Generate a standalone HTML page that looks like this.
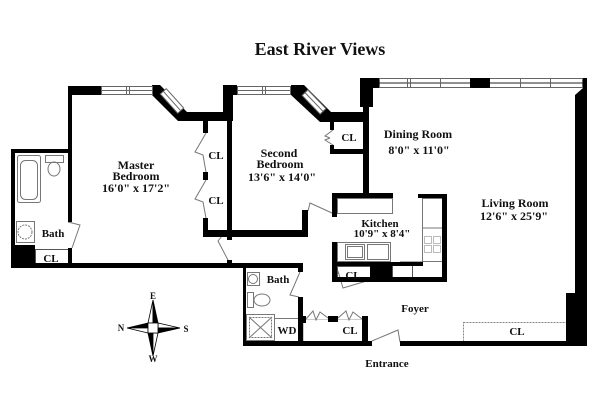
<!DOCTYPE html>
<html><head><meta charset="utf-8">
<style>
html,body{margin:0;padding:0;background:#fff;}
svg{display:block;}
text{font-family:"Liberation Serif",serif;font-weight:bold;fill:#111;}
</style></head><body>
<svg width="600" height="408" viewBox="0 0 600 408" xmlns="http://www.w3.org/2000/svg">
<rect width="600" height="408" fill="#fff"/>

<!-- fixtures / light lines -->
<g fill="none" stroke="#777" stroke-width="1">
 <!-- master bath -->
 <rect x="17.5" y="155.5" width="23" height="47" rx="2"/>
 <rect x="20.5" y="160.5" width="17" height="39" rx="5"/>
 <rect x="45.5" y="155.5" width="18" height="7"/>
 <ellipse cx="54" cy="169" rx="6" ry="7"/>
 <rect x="16.5" y="221.5" width="18" height="21"/>
 <circle cx="25" cy="232" r="7" stroke-dasharray="2,1"/>
 <rect x="35.5" y="249.5" width="33" height="14" stroke="#555"/>
 <!-- foyer bath -->
 <rect x="247.5" y="272.5" width="12" height="13"/>
 <circle cx="253" cy="279" r="4.5"/>
 <rect x="247.5" y="292.5" width="6" height="15"/>
 <ellipse cx="262" cy="300" rx="8" ry="6"/>
 <rect x="246.5" y="314.5" width="28" height="26"/>
 <rect x="249.5" y="317.5" width="22" height="20" stroke-dasharray="2,1"/>
 <line x1="249" y1="317" x2="272" y2="338"/>
 <line x1="272" y1="317" x2="249" y2="338"/>
 <rect x="274.5" y="318.5" width="24" height="23"/>
 <!-- foyer CL -->
 <rect x="303.5" y="319.5" width="60" height="22" stroke="#ccc"/>
 <!-- kitchen -->
 <rect x="337.5" y="198.5" width="55" height="15"/>
 <rect x="337.5" y="242.5" width="53" height="19"/>
 <rect x="345.5" y="244.5" width="19" height="15"/>
 <rect x="347.5" y="246.5" width="15" height="11"/>
 <rect x="367.5" y="244.5" width="21" height="15"/>
 <rect x="422.5" y="198.5" width="20" height="63"/>
 <line x1="422" y1="228" x2="442" y2="228"/>
 <rect x="424.5" y="236.5" width="7" height="7" stroke-dasharray="1,1"/>
 <rect x="433.5" y="236.5" width="7" height="7" stroke-dasharray="1,1"/>
 <rect x="424.5" y="245.5" width="7" height="7" stroke-dasharray="1,1"/>
 <rect x="433.5" y="245.5" width="7" height="7" stroke-dasharray="1,1"/>
 <rect x="337.5" y="266.5" width="33" height="11" stroke="#555"/>
 <rect x="392.5" y="263.5" width="20" height="14" stroke="#555"/>
 <line x1="400" y1="262" x2="423" y2="262" stroke="#555"/>
 <!-- living CL -->
 <rect x="463.5" y="322.5" width="103" height="19" stroke="#888" stroke-dasharray="2,1"/>
 <!-- doors -->
 <polyline points="68,222 80,225 72,248"/>
 <polyline points="222,236 218,241 229,262"/>
 <polyline points="308,211 310,203 332,213"/>
 <polyline points="300,272 290,295 299,297"/>
 <polyline points="372,341 398,330 400,342"/>
 <polyline points="338,271 343,288 370,280"/>
 <polyline points="206,133 195,152 203,155 206,172"/>
 <polyline points="206,180 195,199 203,202 206,218"/>
 <polyline points="333,130 325,136 330,138"/>
 <polyline points="333,145 325,140 330,138"/>
 <polyline points="306,319 313,311 316,320 320,312 328,318"/>
 <polyline points="338,318 346,311 349,320 353,312 362,319"/>
</g>

<!-- walls -->
<g fill="#000">
 <rect x="68" y="86" width="33" height="9"/>
 <rect x="68" y="86" width="4" height="136"/>
 <rect x="68" y="248" width="4" height="17"/>
 <rect x="11" y="149" width="61" height="4"/>
 <rect x="11" y="149" width="4" height="119"/>
 <rect x="11" y="263" width="292" height="5"/>
 <rect x="15" y="245" width="20" height="18"/>
 <polygon points="152,85 160,85 187,112 187,121 178,121 152,95"/>
 <rect x="183" y="112" width="50" height="9"/>
 <rect x="203" y="120" width="5" height="13"/>
 <rect x="203" y="172" width="5" height="8"/>
 <rect x="203" y="218" width="5" height="17"/>
 <rect x="203" y="230" width="105" height="7"/>
 <rect x="227" y="86" width="5" height="154"/>
 <rect x="223" y="85" width="14" height="10"/>
 <rect x="223" y="85" width="10" height="36"/>
 <rect x="227" y="260" width="5" height="5"/>
 <rect x="291" y="85" width="13" height="10"/>
 <polygon points="291,85 304,85 331,112 331,122 320,122 291,95"/>
 <rect x="327" y="112" width="41" height="10"/>
 <rect x="330" y="122" width="4" height="8"/>
 <rect x="330" y="145" width="4" height="9"/>
 <rect x="330" y="149" width="38" height="5"/>
 <rect x="360" y="78" width="19" height="10"/>
 <rect x="360" y="78" width="13" height="29"/>
 <rect x="363" y="78" width="6" height="120"/>
 <rect x="302" y="210" width="6" height="27"/>
 <rect x="332" y="193" width="5" height="24"/>
 <rect x="333" y="193" width="60" height="5"/>
 <rect x="418" y="194" width="29" height="4"/>
 <rect x="442" y="194" width="5" height="88"/>
 <rect x="332" y="277" width="115" height="5"/>
 <rect x="332" y="242" width="5" height="40"/>
 <rect x="337" y="262" width="86" height="4"/>
 <rect x="370" y="262" width="22" height="16"/>
 <rect x="243" y="263" width="3" height="83"/>
 <rect x="298" y="263" width="5" height="9"/>
 <rect x="298" y="297" width="5" height="49"/>
 <rect x="303" y="316" width="3" height="7"/>
 <rect x="328" y="316" width="10" height="6"/>
 <rect x="362" y="316" width="6" height="30"/>
 <rect x="243" y="341" width="129" height="5"/>
 <rect x="400" y="341" width="187" height="5"/>
 <polygon points="583,78 587,78 587,346 575,346 575,95 583,88"/>
 <rect x="566" y="293" width="21" height="53"/>
</g>

<!-- windows -->
<g fill="#fff" stroke="#666" stroke-width="1">
 <rect x="101.5" y="86.5" width="51" height="8"/>
 <line x1="101" y1="90.5" x2="152" y2="90.5"/>
 <line x1="126.5" y1="86" x2="126.5" y2="95"/>
 <line x1="129.5" y1="86" x2="129.5" y2="95"/>
 <g transform="translate(172,101) rotate(48)">
  <rect x="-13" y="-4" width="26" height="8"/>
  <line x1="-13" y1="0" x2="13" y2="0"/>
 </g>
 <rect x="237.5" y="86.5" width="53" height="8"/>
 <line x1="237" y1="90.5" x2="291" y2="90.5"/>
 <line x1="262.5" y1="86" x2="262.5" y2="95"/>
 <line x1="265.5" y1="86" x2="265.5" y2="95"/>
 <g transform="translate(314,102) rotate(46)">
  <rect x="-13" y="-4" width="26" height="8"/>
  <line x1="-13" y1="0" x2="13" y2="0"/>
 </g>
 <rect x="379.5" y="78.5" width="203" height="9"/>
 <line x1="379" y1="83" x2="583" y2="83" stroke="#222"/>
 <line x1="407.5" y1="78" x2="407.5" y2="88"/>
 <line x1="410.5" y1="78" x2="410.5" y2="88"/>
 <line x1="440.5" y1="78" x2="440.5" y2="88"/>
 <line x1="520.5" y1="78" x2="520.5" y2="88"/>
 <line x1="550.5" y1="78" x2="550.5" y2="88"/>
</g>
<rect x="470" y="78" width="20" height="10" fill="#000"/>

<!-- compass -->
<g stroke="#000" stroke-width="0.8">
 <polygon points="153,300 148,323 153,323" fill="#fff"/>
 <polygon points="153,300 158,323 153,323" fill="#000"/>
 <polygon points="127,328 148,323 148,328" fill="#000"/>
 <polygon points="127,328 148,333 148,328" fill="#fff"/>
 <polygon points="180,328 158,323 158,328" fill="#fff"/>
 <polygon points="180,328 158,333 158,328" fill="#000"/>
 <polygon points="153,356 148,333 153,333" fill="#000"/>
 <polygon points="153,356 158,333 153,333" fill="#fff"/>
 <rect x="148" y="323" width="10" height="10" fill="#fff"/>
</g>
<g font-size="9" text-anchor="middle">
 <text x="153" y="299">E</text>
 <text x="121" y="331">N</text>
 <text x="186" y="332">S</text>
 <text x="153" y="362">W</text>
</g>

<!-- labels -->
<text x="320" y="55" font-size="18" text-anchor="middle">East River Views</text>
<g font-size="12" text-anchor="middle">
 <text x="136" y="169">Master</text>
 <text x="136" y="180">Bedroom</text>
 <text x="136" y="192">16'0" x 17'2"</text>
 <text x="279" y="157">Second</text>
 <text x="280" y="168">Bedroom</text>
 <text x="282" y="181">13'6" x 14'0"</text>
 <text x="418" y="138">Dining Room</text>
 <text x="419" y="154">8'0" x 11'0"</text>
 <text x="515" y="207">Living Room</text>
 <text x="514" y="220">12'6" x 25'9"</text>
</g>
<g font-size="11" text-anchor="middle">
 <text x="380" y="227">Kitchen</text>
 <text x="382" y="237">10'9" x 8'4"</text>
 <text x="415" y="312">Foyer</text>
 <text x="387" y="367">Entrance</text>
 <text x="53" y="237">Bath</text>
 <text x="278" y="283">Bath</text>
 <text x="51" y="262">CL</text>
 <text x="216" y="159">CL</text>
 <text x="216" y="204">CL</text>
 <text x="349" y="141">CL</text>
 <text x="353" y="279">CL</text>
 <text x="287" y="334">WD</text>
 <text x="350" y="334">CL</text>
 <text x="517" y="335">CL</text>
</g>
</svg>
</body></html>
